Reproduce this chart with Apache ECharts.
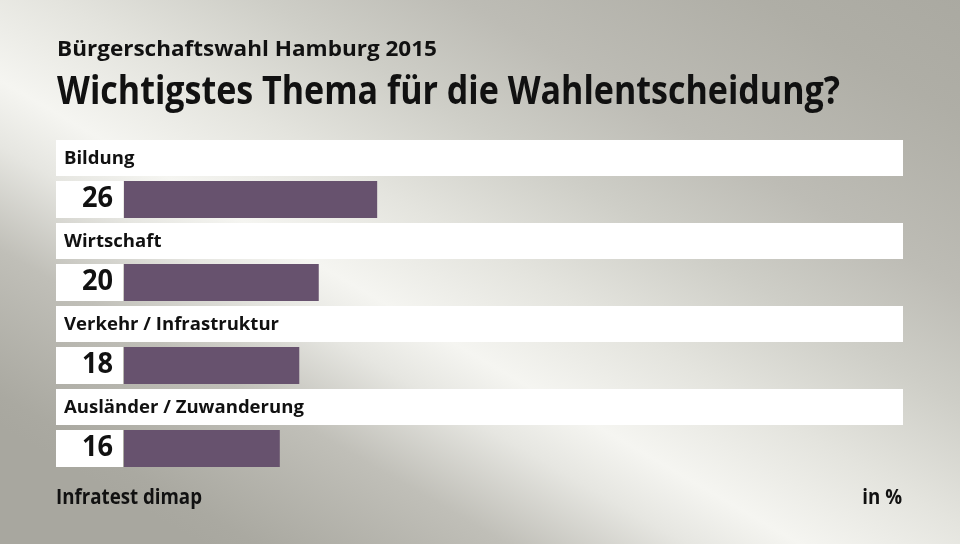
<!DOCTYPE html>
<html>
<head>
<meta charset="utf-8">
<script src="https://cdn.jsdelivr.net/npm/echarts@6/dist/echarts.min.js"></script>
<style>
html,body{margin:0;padding:0;}
#c{width:960px;height:544px;}
</style>
</head>
<body>
<div id="c"></div>
<script>
const subtitleText = 'Bürgerschaftswahl Hamburg 2015';
const titleText = 'Wichtigstes Thema für die Wahlentscheidung?';
const sourceText = 'Infratest dimap';
const unitText = 'in %';
const categories = ['Bildung', 'Wirtschaft', 'Verkehr / Infrastruktur', 'Ausländer / Zuwanderung'];
const values = [26, 20, 18, 16];

const FONT = '"Open Sans", "Noto Sans", sans-serif';
const cv = document.createElement('canvas').getContext('2d');
function measure(t, size) { cv.font = 'bold ' + size + 'px ' + FONT; return cv.measureText(t).width; }
const kTitle = 783 / measure(titleText, 40);
const kSub = 380 / measure(subtitleText, 21);
const kSrc = 146 / measure(sourceText, 21);
const kLab = 215 / measure(categories[2], 18);
const kNum = (kTitle + kSub + kSrc) / 3;

const chart = echarts.init(document.getElementById('c'));

const bg = new echarts.graphic.LinearGradient(-150, 340, 301, -439, [
  {offset: 0, color: '#a8a79f'},
  {offset: 0.03, color: '#aaa9a1'},
  {offset: 0.17, color: '#c0bfb8'},
  {offset: 0.27, color: '#e6e6e1'},
  {offset: 0.333, color: '#f5f5f1'},
  {offset: 0.44, color: '#e4e4de'},
  {offset: 0.556, color: '#cecec7'},
  {offset: 0.667, color: '#bdbcb5'},
  {offset: 0.833, color: '#afaea6'},
  {offset: 1, color: '#a8a79f'}
], true);

function txt(t, x, y, size, align, scale) {
  return {
    type: 'text', x: x, y: y, scaleX: scale, scaleY: 1,
    style: {text: t, font: 'bold ' + size + 'px ' + FONT, fill: '#111', align: align, verticalAlign: 'middle'}
  };
}

chart.setOption({
  backgroundColor: bg,
  animation: false,
  grid: {left: 124, right: 57, top: 140, height: 332},
  xAxis: {type: 'value', min: 0, max: 80, show: false},
  yAxis: {type: 'category', data: categories, inverse: true, show: false},
  graphic: [
    txt(subtitleText, 57, 50, 21, 'left', kSub),
    txt(titleText, 57, 93, 40, 'left', kTitle),
    txt(sourceText, 56, 498, 21, 'left', kSrc),
    txt(unitText, 902, 498, 21, 'right', kSrc)
  ],
  series: [{
    type: 'custom',
    data: values.map((v, i) => [v, i]),
    encode: {x: 0, y: 1},
    renderItem: function (params, api) {
      const i = api.value(1), v = api.value(0);
      const c0 = api.coord([0, i]);
      const c1 = api.coord([v, i]);
      const band = api.size([0, 1])[1];
      const top = c0[1] - band / 2;
      const right = params.coordSys.x + params.coordSys.width;
      return {
        type: 'group',
        children: [
          {type: 'rect', shape: {x: 56, y: top, width: right - 56, height: 36}, style: {fill: '#ffffff'}},
          {type: 'text', x: 64, y: top + 18.5, scaleX: kLab, style: {text: categories[i], font: 'bold 18px ' + FONT, fill: '#111', align: 'left', verticalAlign: 'middle'}},
          {type: 'rect', shape: {x: 56, y: top + 41, width: c0[0] - 57, height: 37}, style: {fill: '#ffffff'}},
          {type: 'text', x: c0[0] - 11, y: top + 59, scaleX: kNum, style: {text: String(v), font: 'bold 29px ' + FONT, fill: '#111', align: 'right', verticalAlign: 'middle'}},
          {type: 'rect', shape: {x: c0[0], y: top + 41, width: c1[0] - c0[0], height: 37}, style: {fill: '#67526e'}}
        ]
      };
    }
  }]
});
</script>
</body>
</html>
